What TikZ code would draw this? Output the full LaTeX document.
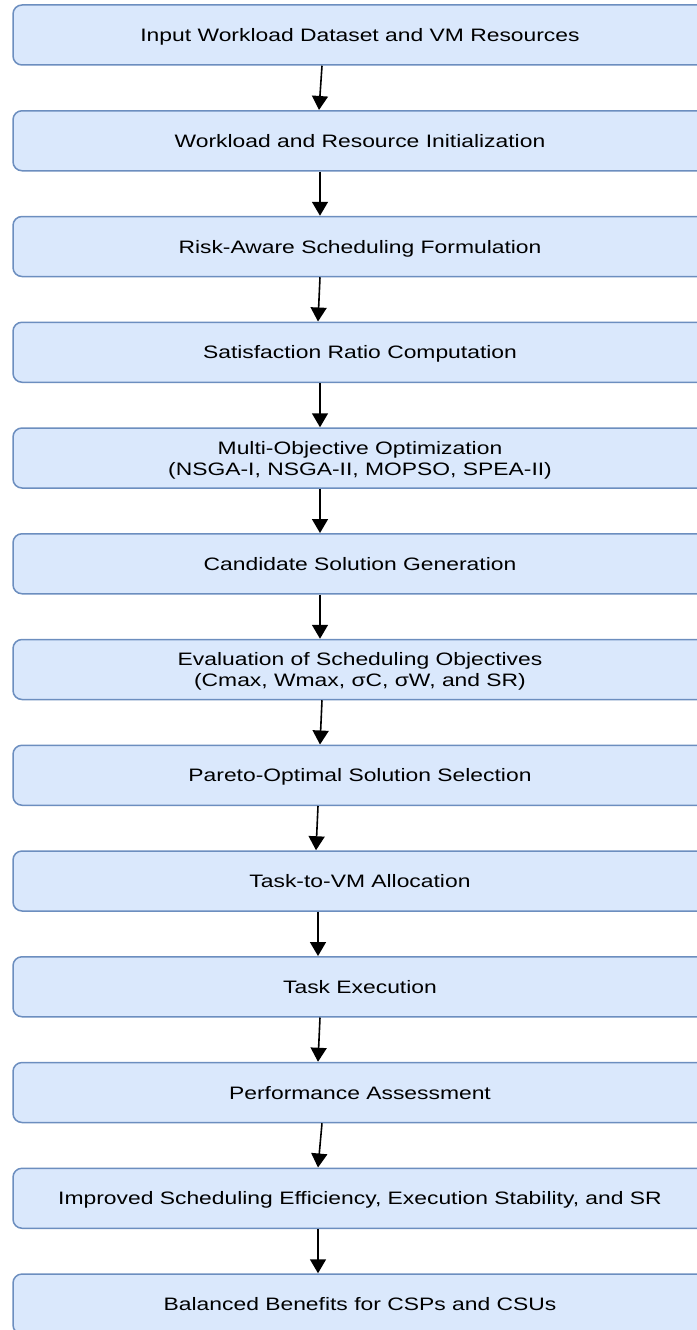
\documentclass[tikz,border=0pt]{standalone}
\usepackage{fontspec}
\setmainfont{Liberation Sans}[FakeStretch=1.27]
\usetikzlibrary{arrows.meta}
\definecolor{boxfill}{HTML}{DAE8FC}
\definecolor{boxline}{HTML}{6C8EBF}
\tikzset{
  stepbox/.style={draw=boxline, fill=boxfill, line width=1.5pt, rounded corners=9pt,
    minimum width=694pt, minimum height=60pt, inner sep=0pt, align=center,
    text depth=0pt, font=\fontsize{18}{21}\selectfont, text=black},
  arr/.style={line width=1.6pt, -{Triangle[width=16pt,length=14pt]}}
}
\begin{document}
\begin{tikzpicture}[x=1pt,y=-1pt]
\useasboundingbox (0,0) rectangle (696,1330);
\node[stepbox] (n1) at (360,35) {Input Workload Dataset and VM Resources};
\node[stepbox] (n2) at (360,140.75) {Workload and Resource Initialization};
\node[stepbox] (n3) at (360,246.5) {Risk-Aware Scheduling Formulation};
\node[stepbox] (n4) at (360,352.25) {Satisfaction Ratio Computation};
\node[stepbox] (n5) at (360,458) {Multi-Objective Optimization\\(NSGA-I, NSGA-II, MOPSO, SPEA-II)};
\node[stepbox] (n6) at (360,563.75) {Candidate Solution Generation};
\node[stepbox] (n7) at (360,669.5) {Evaluation of Scheduling Objectives\\(Cmax, Wmax, σC, σW, and SR)};
\node[stepbox] (n8) at (360,775.25) {Pareto-Optimal Solution Selection};
\node[stepbox] (n9) at (360,881) {Task-to-VM Allocation};
\node[stepbox] (n10) at (360,986.75) {Task Execution};
\node[stepbox] (n11) at (360,1092.5) {Performance Assessment};
\node[stepbox] (n12) at (360,1198.25) {Improved Scheduling Efficiency, Execution Stability, and SR};
\node[stepbox] (n13) at (360,1304) {Balanced Benefits for CSPs and CSUs};
\draw[arr] ([xshift=-38pt]n1.south) -- ([xshift=-41pt]n2.north);
\draw[arr] ([xshift=-40pt]n2.south) -- ([xshift=-40pt]n3.north);
\draw[arr] ([xshift=-40pt]n3.south) -- ([xshift=-42pt]n4.north);
\draw[arr] ([xshift=-40pt]n4.south) -- ([xshift=-40pt]n5.north);
\draw[arr] ([xshift=-40pt]n5.south) -- ([xshift=-40pt]n6.north);
\draw[arr] ([xshift=-40pt]n6.south) -- ([xshift=-40pt]n7.north);
\draw[arr] ([xshift=-38pt]n7.south) -- ([xshift=-40pt]n8.north);
\draw[arr] ([xshift=-42pt]n8.south) -- ([xshift=-44pt]n9.north);
\draw[arr] ([xshift=-42pt]n9.south) -- ([xshift=-42pt]n10.north);
\draw[arr] ([xshift=-40pt]n10.south) -- ([xshift=-42pt]n11.north);
\draw[arr] ([xshift=-38pt]n11.south) -- ([xshift=-42pt]n12.north);
\draw[arr] ([xshift=-42pt]n12.south) -- ([xshift=-42pt]n13.north);
\end{tikzpicture}
\end{document}
